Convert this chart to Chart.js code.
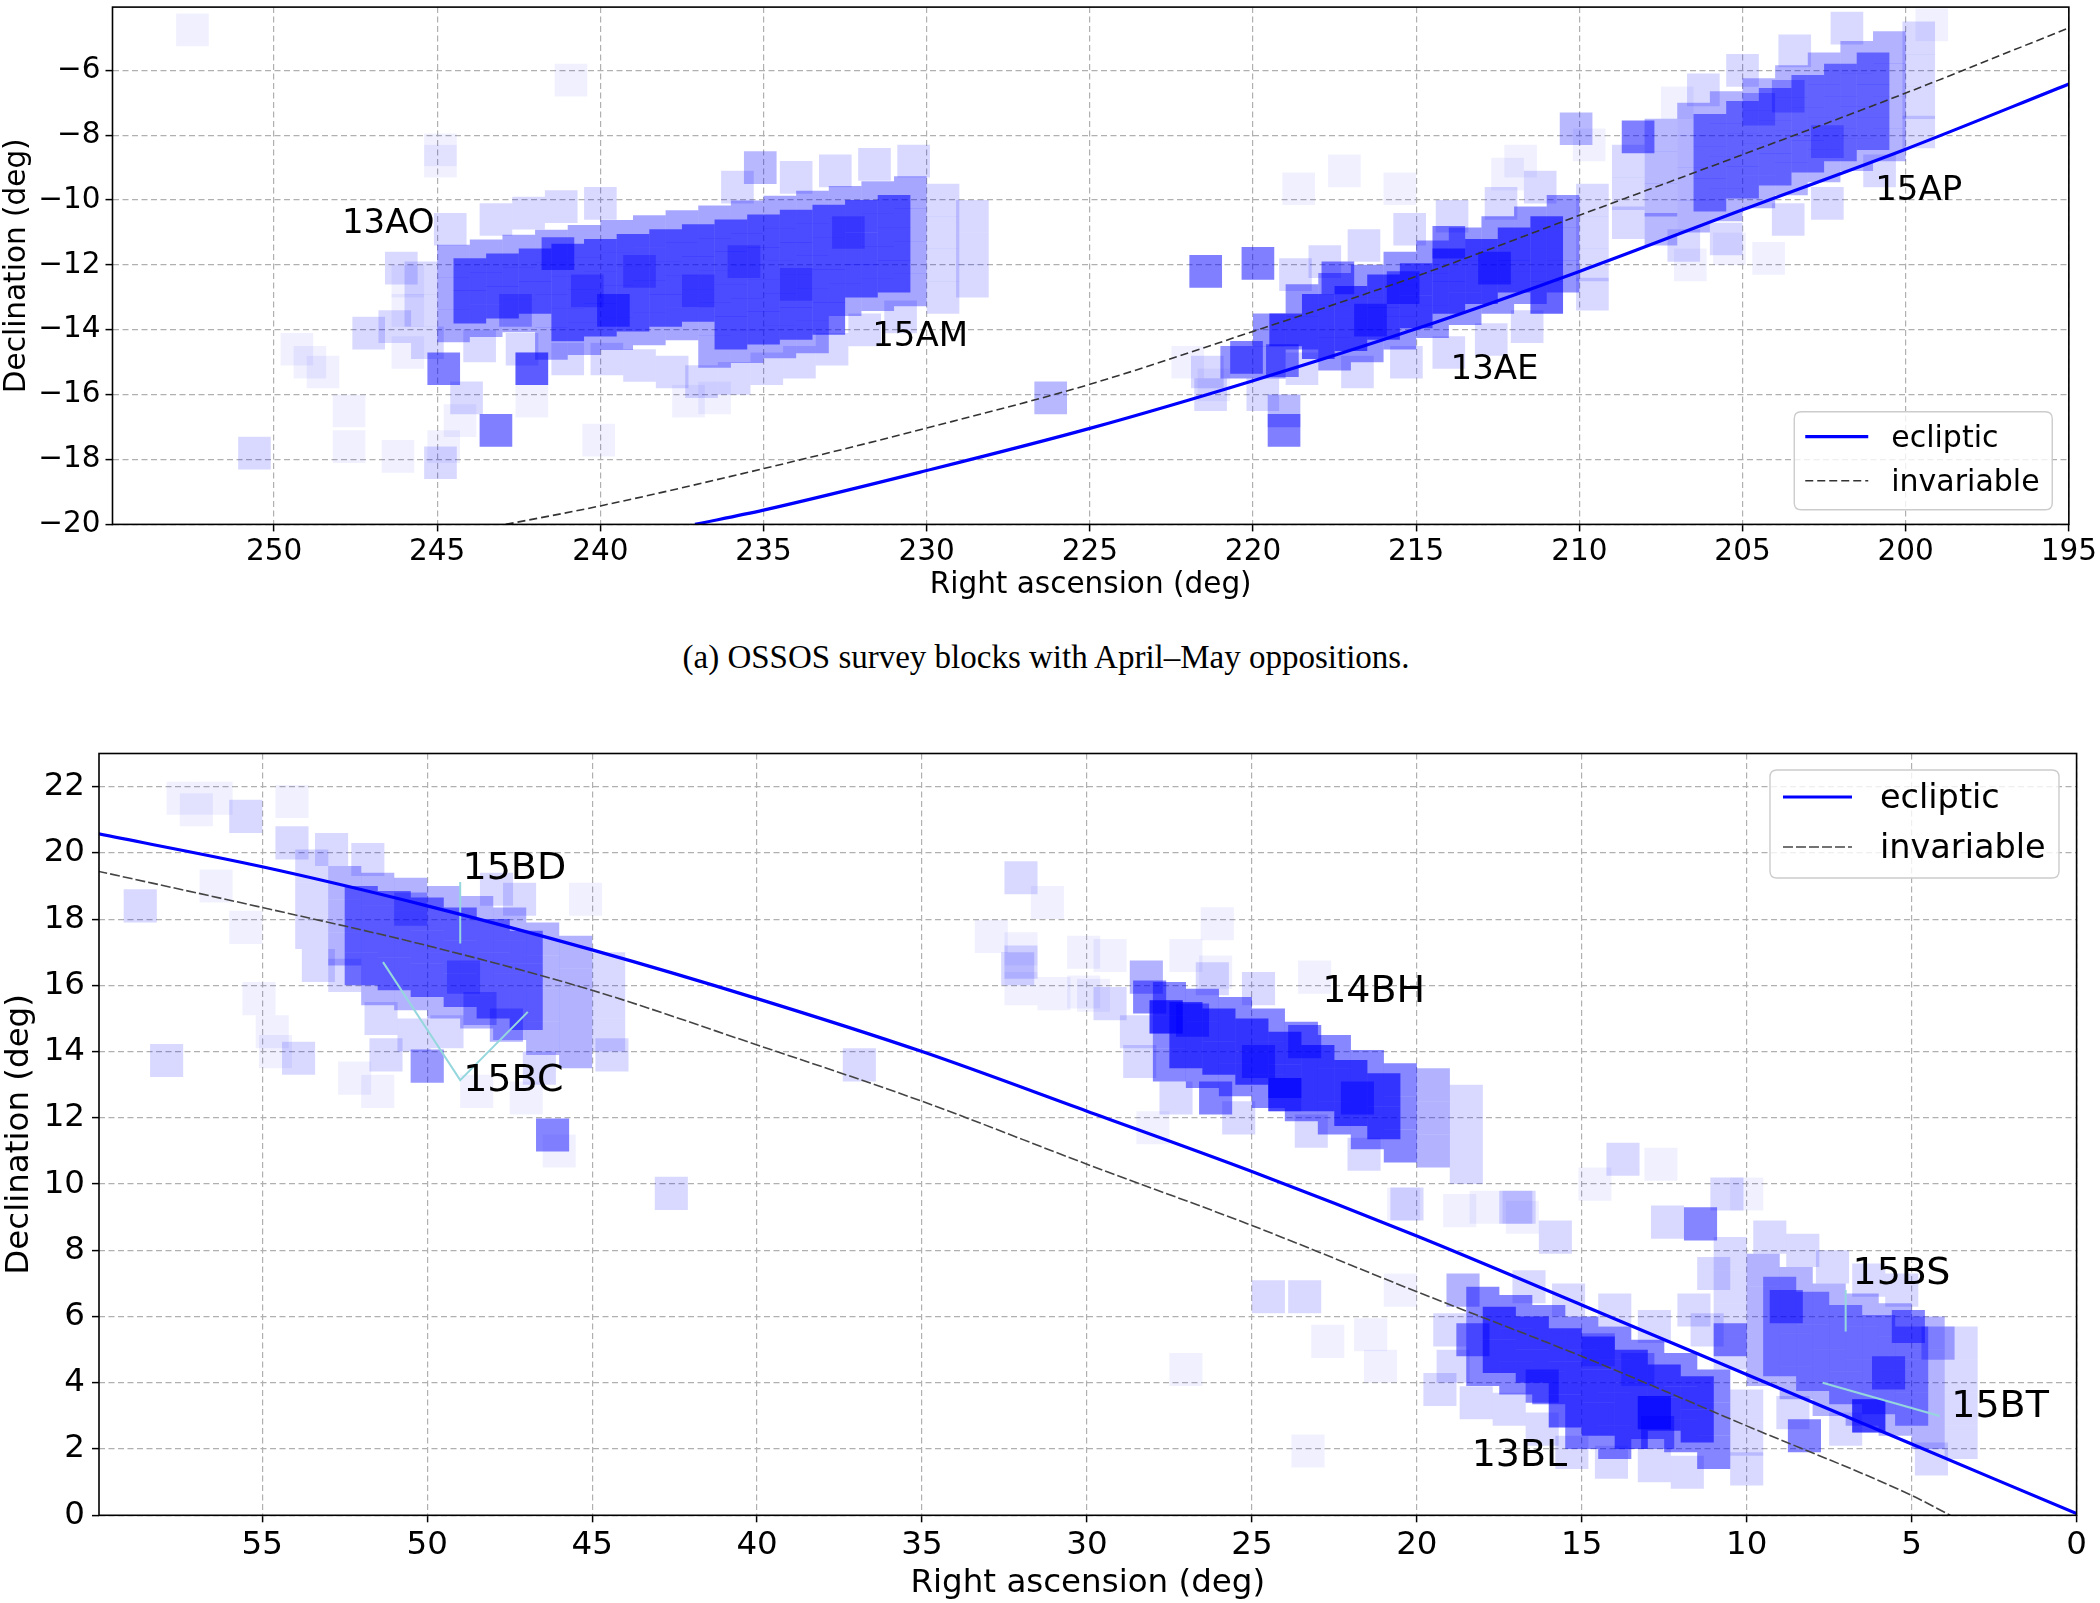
<!DOCTYPE html>
<html>
<head>
<meta charset="utf-8">
<title>OSSOS survey blocks</title>
<script src="https://cdn.jsdelivr.net/npm/chart.js@4.4.1/dist/chart.umd.min.js"></script>
<style>
  html, body { margin: 0; padding: 0; background: #fff; }
  body { width: 2100px; height: 1603px; position: relative; overflow: hidden; }
  canvas { position: absolute; left: 0; }
  #topChart { top: -15.7px; }
  #botChart { top: 700px; }
  #caption { position: absolute; left: 0; width: 2092px; top: 641px; text-align: center;
    font-family: "Liberation Serif", "DejaVu Serif", serif; font-size: 33px; line-height: 33px; color: #000; }
</style>
</head>
<body>
<canvas id="topChart" width="2100" height="626"></canvas>
<div id="caption">(a) OSSOS survey blocks with April–May oppositions.</div>
<canvas id="botChart" width="2100" height="903"></canvas>
<script>
// ---------- top panel: blocks with April-May oppositions ----------
const topXTicks = [250, 245, 240, 235, 230, 225, 220, 215, 210, 205, 200, 195];
const topYTicks = [-6, -8, -10, -12, -14, -16, -18, -20];

const topEclipticRA = [237.1, 235, 230, 225, 220, 215, 210, 205, 200, 195];
const topEclipticDec = [-20, -19.56, -18.34, -17.04, -15.57, -13.97, -12.2, -10.3, -8.43, -6.42];
const topInvariableRA = [242.9, 240, 235, 230, 225, 220, 215, 210, 205, 200, 195];
const topInvariableDec = [-20, -19.43, -18.28, -17.03, -15.68, -14.05, -12.35, -10.47, -8.6, -6.7, -4.69];

const topLabelText = ['13AO', '15AM', '13AE', '15AP'];
const topLabelRA = [246.5, 230.2, 212.6, 199.6];
const topLabelDec = [-10.64, -14.13, -15.14, -9.63];

// 13AO / 15AM field
const topOuterAO = [
  [244.5,-11.88],[244.5,-12.88],[244.5,-13.88],
  [243.5,-11.72],[243.5,-12.72],[243.5,-13.72],
  [242.5,-11.57],[242.5,-12.57],[242.5,-13.57],
  [241.5,-11.42],[241.5,-12.42],[241.5,-13.42],[241.5,-14.42],
  [240.5,-11.27],[240.5,-12.27],[240.5,-13.27],[240.5,-14.27],
  [239.5,-11.12],[239.5,-12.12],[239.5,-13.12],[239.5,-14.12],
  [238.5,-10.97],[238.5,-11.97],[238.5,-12.97],[238.5,-13.97],
  [237.5,-10.82],[237.5,-11.82],[237.5,-12.82],[237.5,-13.82],
  [236.5,-10.67],[236.5,-11.67],[236.5,-12.67],[236.5,-13.67],[236.5,-14.67],
  [235.5,-10.52],[235.5,-11.52],[235.5,-12.52],[235.5,-13.52],[235.5,-14.52],
  [234.5,-10.37],[234.5,-11.37],[234.5,-12.37],[234.5,-13.37],[234.5,-14.37],
  [233.5,-10.22],[233.5,-11.22],[233.5,-12.22],[233.5,-13.22],[233.5,-14.22],
  [232.5,-10.07],[232.5,-11.07],[232.5,-12.07],[232.5,-13.07],
  [231.5,-9.92],[231.5,-10.92],[231.5,-11.92],[231.5,-12.92],
  [230.5,-9.77],[230.5,-10.77],[230.5,-11.77],[230.5,-12.77]
];
const topInnerAO = [
  [244.0,-12.3],[244.0,-13.3],[243.0,-12.15],[243.0,-13.15],[242.0,-12.0],[242.0,-13.0],
  [241.0,-11.85],[241.0,-12.85],[241.0,-13.85],[240.0,-11.7],[240.0,-12.7],[240.0,-13.7],
  [239.0,-11.55],[239.0,-12.55],[239.0,-13.55],[238.0,-11.4],[238.0,-12.4],[238.0,-13.4],
  [237.0,-11.25],[237.0,-12.25],[237.0,-13.25],
  [236.0,-11.1],[236.0,-12.1],[236.0,-13.1],[236.0,-14.1],
  [235.0,-10.95],[235.0,-11.95],[235.0,-12.95],[235.0,-13.95],
  [234.0,-10.8],[234.0,-11.8],[234.0,-12.8],[234.0,-13.8],
  [233.0,-10.65],[233.0,-11.65],[233.0,-12.65],[233.0,-13.65],
  [232.0,-10.5],[232.0,-11.5],[232.0,-12.5],[231.0,-10.35],[231.0,-11.35],[231.0,-12.35]
];
// 13AE field
const topOuterAE = [
  [220.5,-15.0],[219.5,-14.0],[219.5,-15.0],[218.5,-13.1],[218.5,-14.1],
  [217.5,-12.75],[217.5,-13.75],[217.5,-14.75],[216.5,-12.5],[216.5,-13.5],[216.5,-14.5],
  [215.5,-12.1],[215.5,-13.1],[215.5,-14.1],[214.5,-11.75],[214.5,-12.75],[214.5,-13.75],
  [213.5,-11.35],[213.5,-12.35],[213.5,-13.35],[212.5,-11.0],[212.5,-12.0],[212.5,-13.0],
  [211.5,-10.7],[211.5,-11.7],[211.5,-12.7],[210.5,-10.35],[210.5,-11.35],[210.5,-12.35]
];
const topInnerAE = [
  [219.0,-14.0],[218.0,-13.4],[218.0,-14.4],[217.0,-13.15],[217.0,-14.15],
  [216.0,-12.8],[216.0,-13.8],[215.0,-12.45],[215.0,-13.45],[214.0,-12.0],[214.0,-13.0],
  [213.0,-11.7],[213.0,-12.7],[212.0,-11.35],[212.0,-12.35],[211.0,-11.0],[211.0,-12.0],[211.0,-13.0]
];
// 15AP field
const topOuterAP = [
  [206.5,-7.5],[206.5,-8.5],[206.5,-9.5],[206.5,-10.5],
  [205.5,-7.15],[205.5,-8.15],[205.5,-9.15],[205.5,-10.15],
  [204.5,-6.75],[204.5,-7.75],[204.5,-8.75],[204.5,-9.75],
  [203.5,-6.35],[203.5,-7.35],[203.5,-8.35],[203.5,-9.35],
  [202.5,-5.95],[202.5,-6.95],[202.5,-7.95],[202.5,-8.95],
  [201.5,-5.6],[201.5,-6.6],[201.5,-7.6],[201.5,-8.6],
  [200.5,-5.3],[200.5,-6.3],[200.5,-7.3],[200.5,-8.3]
];
const topInnerAP = [
  [206.0,-7.85],[206.0,-8.85],[206.0,-9.85],[205.0,-7.45],[205.0,-8.45],[205.0,-9.45],
  [204.0,-7.05],[204.0,-8.05],[204.0,-9.05],[203.0,-6.65],[203.0,-7.65],[203.0,-8.65],
  [202.0,-6.3],[202.0,-7.3],[202.0,-8.3],[201.0,-5.95],[201.0,-6.95],[201.0,-7.95]
];
const topDark = [
  [241.3,-11.65],[239.6,-13.4],[242.1,-15.2],[243.2,-17.1],[244.8,-15.2],
  [221.45,-12.2],[219.85,-11.95],[219.05,-17.1],[208.2,-8.05],
  [217.4,-12.4],[216.4,-13.7],[215.4,-12.7],[214.0,-11.3],[212.6,-12.1],
  [219.1,-14.95],[220.2,-14.85]
];
const topMid = [
  [235.1,-9.0],[226.2,-16.1],[210.1,-7.8],[219.05,-16.5],[242.1,-15.2],
  [238.8,-12.2],[237.0,-12.8],[235.6,-11.9],[234.0,-12.6],[232.4,-11.0],[240.4,-12.8],[242.6,-13.4],
  [203.6,-6.8],[202.4,-8.2],[204.5,-7.2],
  [207.5,-8.0],[207.5,-9.0],[207.5,-10.0],[207.5,-10.9]
];
const topLight = [
  [244.9,-18.1],[244.1,-16.1],[247.1,-14.1],[250.6,-17.8],
  [245.5,-12.4],[245.5,-13.4],[245.3,-14.4],[246.3,-13.9],[246.1,-12.1],
  [244.6,-10.9],[243.2,-10.6],[242.2,-10.4],[241.2,-10.2],[240.0,-10.1],
  [235.8,-9.6],[234.0,-9.3],[232.8,-9.1],[231.6,-8.9],[230.4,-8.8],
  [229.5,-10.0],[229.5,-11.0],[229.5,-12.0],[229.5,-13.0],[228.6,-10.5],[228.6,-11.5],[228.6,-12.5],
  [239.8,-14.9],[238.8,-15.1],[237.8,-15.3],[236.9,-15.6],[235.9,-15.5],[234.9,-15.2],[233.9,-15.0],
  [232.9,-14.6],[231.9,-14.0],[230.8,-13.6],[241.0,-14.9],[242.4,-14.6],[243.7,-14.5],
  [221.4,-15.3],[221.3,-16.0],[219.7,-16.0],[218.5,-15.2],[216.8,-15.3],[215.3,-15.0],[214.0,-14.7],
  [212.7,-14.3],[211.6,-13.9],[218.7,-12.3],[217.8,-11.9],[216.6,-11.4],[215.2,-10.9],[213.9,-10.5],
  [212.4,-10.1],[211.2,-9.6],[209.6,-10.0],[209.6,-11.0],[209.6,-12.0],[209.6,-12.9],
  [208.5,-8.8],[208.5,-9.8],[208.5,-10.7],[206.8,-11.4],[203.6,-10.6],[202.4,-10.1],[206.2,-6.6],
  [205.0,-6.0],[203.4,-5.4],[201.8,-4.7],[199.6,-5.0],[199.6,-6.0],[199.6,-7.0],[199.6,-7.9],
  [200.8,-9.1],[205.5,-11.2]
];
const topFaint = [
  [252.5,-4.75],[240.9,-6.3],[244.9,-8.45],[244.9,-8.8],[247.7,-17.6],[246.2,-17.9],[244.8,-17.6],
  [240.05,-17.4],[247.7,-16.5],[244.3,-16.8],[242.1,-16.2],[236.5,-16.1],[237.3,-16.2],[249.3,-14.6],
  [248.9,-15.0],[248.5,-15.3],[245.9,-14.7],[245.9,-12.5],[245.9,-13.4],[221.2,-15.7],[218.6,-9.65],
  [217.2,-9.1],[215.5,-9.65],[212.2,-9.2],[211.8,-8.8],[204.2,-11.8],[205.4,-11.5],[222.0,-15.0],
  [207.0,-7.0],[199.2,-4.6],[209.7,-8.3],[206.6,-12.0]
];

// ---------- bottom panel ----------
const botXTicks = [55, 50, 45, 40, 35, 30, 25, 20, 15, 10, 5, 0];
const botYTicks = [0, 2, 4, 6, 8, 10, 12, 14, 16, 18, 20, 22];

const botEclipticRA = [60, 55, 50, 45, 40, 35, 30, 25, 20, 15, 10, 5, 0];
const botEclipticDec = [20.58, 19.58, 18.4, 17.07, 15.6, 14.0, 12.2, 10.38, 8.43, 6.35, 4.25, 2.15, 0.05];
const botInvariableRA = [60, 55, 50, 45, 40, 35, 30, 25, 20, 15, 10, 5, 3.83];
const botInvariableDec = [19.45, 18.35, 17.2, 15.85, 14.2, 12.5, 10.6, 8.75, 6.75, 4.8, 2.7, 0.6, 0];

const botLabelText = ['15BD', '15BC', '14BH', '15BS', '15BT', '13BL'];
const botLabelRA = [47.36, 47.39, 21.31, 5.31, 2.32, 16.89];
const botLabelDec = [19.62, 13.22, 15.9, 7.41, 3.39, 1.92];

const leader15BD = [[49.0, 19.12], [49.0, 17.26]];
const leader15BC = [[51.34, 16.7], [49.0, 13.14], [46.95, 15.2]];
const leader15BS = [[7.0, 6.8], [7.0, 5.55]];
const leader15BT = [[7.7, 4.0], [4.15, 3.0]];

// 15BD / 15BC field
const botOuterBD = [
  [52.5,19.1],[52.5,18.1],[52.5,17.1],
  [51.5,18.9],[51.5,17.9],[51.5,16.9],[51.5,15.9],
  [50.5,18.75],[50.5,17.75],[50.5,16.75],[50.5,15.75],
  [49.5,18.5],[49.5,17.5],[49.5,16.5],[49.5,15.5],
  [48.5,18.2],[48.5,17.2],[48.5,16.2],[48.5,15.2],
  [47.5,17.85],[47.5,16.85],[47.5,15.85],[47.5,14.85],
  [46.5,17.4],[46.5,16.4],[46.5,15.4],[46.5,14.4]
];
const botInnerBD = [
  [52.0,18.5],[52.0,17.5],[52.0,16.5],[51.0,18.35],[51.0,17.35],[51.0,16.35],
  [50.0,18.15],[50.0,17.15],[50.0,16.15],[49.0,17.85],[49.0,16.85],[49.0,15.85],
  [48.0,17.5],[48.0,16.5],[48.0,15.5],[47.0,17.15],[47.0,16.15],[47.0,15.15]
];
// 14BH field
const botOuterBH = [
  [27.5,15.6],[27.5,14.6],[27.5,13.6],[26.5,15.4],[26.5,14.4],[26.5,13.4],
  [25.5,15.15],[25.5,14.15],[25.5,13.15],[24.5,14.8],[24.5,13.8],[24.5,12.8],
  [23.5,14.4],[23.5,13.4],[23.5,12.4],[22.5,14.0],[22.5,13.0],[22.5,12.0],
  [21.5,13.55],[21.5,12.55],[21.5,11.55],[20.5,13.15],[20.5,12.15],[20.5,11.15]
];
const botInnerBH = [
  [27.0,15.0],[27.0,14.0],[26.0,14.8],[26.0,13.8],[25.0,14.5],[25.0,13.5],
  [24.0,14.1],[24.0,13.1],[23.0,13.7],[23.0,12.7],[22.0,13.25],[22.0,12.25],
  [21.0,12.85],[21.0,11.85]
];
// 13BL field
const botOuterBL = [
  [18.0,6.4],[18.0,5.4],[18.0,4.4],[17.0,6.15],[17.0,5.15],[17.0,4.15],
  [16.0,5.85],[16.0,4.85],[16.0,3.85],[15.0,5.5],[15.0,4.5],[15.0,3.5],[15.0,2.5],
  [14.0,5.2],[14.0,4.2],[14.0,3.2],[14.0,2.2],[13.0,4.8],[13.0,3.8],[13.0,2.8],
  [12.0,4.4],[12.0,3.4],[12.0,2.4],[11.0,3.9],[11.0,2.9],[11.0,1.9]
];
const botInnerBL = [
  [17.5,5.8],[17.5,4.8],[16.5,5.5],[16.5,4.5],[15.5,5.15],[15.5,4.15],[15.5,3.15],
  [14.5,4.9],[14.5,3.9],[14.5,2.9],[13.5,4.5],[13.5,3.5],[13.5,2.5],
  [12.5,4.05],[12.5,3.05],[11.5,3.7],[11.5,2.7]
];
// 15BS / 15BT field
const botOuterBS = [
  [9.5,7.4],[9.5,6.4],[9.5,5.4],[9.5,4.4],[8.5,7.0],[8.5,6.0],[8.5,5.0],[8.5,4.0],
  [7.5,6.5],[7.5,5.5],[7.5,4.5],[7.5,3.5],[6.5,6.2],[6.5,5.2],[6.5,4.2],[6.5,3.2],
  [5.5,5.9],[5.5,4.9],[5.5,3.9],[5.5,2.9],[4.5,5.5],[4.5,4.5],[4.5,3.5],[4.5,2.5]
];
const botInnerBS = [
  [9.0,6.7],[9.0,5.7],[9.0,4.7],[8.0,6.25],[8.0,5.25],[8.0,4.25],[7.0,5.85],[7.0,4.85],[7.0,3.85],
  [6.0,5.55],[6.0,4.55],[6.0,3.55],[5.0,5.2],[5.0,4.2],[5.0,3.2]
];
const botDark = [
  [46.2,11.48],[28.1,15.65],[27.6,15.05],[27.6,15.05],[26.8,14.95],[24.8,13.7],[24.0,12.7],[24.0,12.7],
  [21.8,12.6],[26.1,12.6],[23.4,14.3],[18.3,5.3],[16.2,3.9],[12.8,3.1],[12.8,3.1],[12.7,2.5],
  [8.8,6.3],[10.5,5.3],[5.7,4.3],[6.3,3.0],[6.3,3.0],[8.25,2.4],[11.4,8.8],[5.1,5.7]
];
const botMid = [
  [50.0,13.56],[28.2,16.25],[47.6,14.8],[48.4,15.3],[48.9,16.25],[50.5,18.3],[14.5,5.0],[13.3,4.4],
  [18.6,6.8],[4.2,5.2],[45.5,17.0],[45.5,16.0],[45.5,15.0],[45.5,14.0],
  [19.5,13.0],[19.5,12.0],[19.5,11.0]
];
const botLight = [
  [55.5,21.1],[58.7,18.4],[57.9,13.73],[53.9,13.8],[51.25,13.9],[50.0,13.56],[42.6,9.72],[36.9,13.6],
  [32.0,16.7],[32.0,19.25],[32.1,16.5],[29.3,15.45],[24.5,6.6],[23.4,6.6],[20.3,9.4],[15.8,8.4],
  [17.0,9.3],[13.75,10.75],[10.6,9.7],[12.4,8.85],[19.3,3.8],[16.9,9.3],
  [53.5,19.6],[53.5,18.6],[53.5,17.6],[53.3,16.6],[52.5,16.3],[54.1,20.3],[52.9,20.1],[51.8,19.8],
  [44.5,16.5],[44.5,15.5],[44.5,14.5],[44.4,13.9],[47.9,18.9],[47.2,18.6],[51.4,15.0],[50.4,14.5],
  [46.6,13.5],[49.4,14.6],
  [18.5,12.5],[18.5,11.5],[18.5,10.5],[28.5,14.6],[28.4,13.7],[27.3,12.6],[26.2,16.2],[24.8,15.9],
  [23.2,11.6],[21.6,10.9],[25.4,12.0],
  [19.0,5.6],[18.9,4.5],[18.2,3.4],[17.2,3.2],[16.2,2.6],[15.3,1.9],[14.1,1.6],[12.8,1.5],[11.8,1.3],
  [10.0,3.3],[10.0,2.3],[10.0,1.4],[16.6,6.9],[15.4,6.5],[14.0,6.2],[12.8,5.7],
  [10.5,7.9],[10.5,6.9],[10.5,5.9],[10.5,4.9],[3.5,5.2],[3.5,4.2],[3.5,3.2],[3.5,2.2],
  [11.0,7.3],[11.6,6.2],[11.2,5.6],[4.4,1.7],[9.3,8.4],[8.3,8.0],[7.4,7.5],[6.3,7.1],[5.3,6.8],
  [7.0,2.6],[8.6,3.1]
];
const botFaint = [
  [57.4,21.65],[56.4,21.65],[54.1,21.55],[56.4,19.0],[55.5,17.75],[54.7,14.6],[55.1,15.6],[51.5,12.8],
  [48.5,12.8],[46.0,11.0],[45.2,18.6],[32.9,17.48],[31.2,18.5],[32.0,17.1],[30.1,17.0],[29.3,16.9],
  [31.0,15.75],[30.1,15.8],[26.05,17.86],[27.0,16.9],[26.1,16.4],[23.1,16.25],[28.0,11.7],[22.7,5.25],
  [21.4,5.45],[21.1,4.5],[27.0,4.4],[23.3,1.94],[20.5,6.8],[18.7,9.2],[16.8,9.0],[17.9,9.3],[14.6,10.0],
  [12.6,10.6],[20.4,9.4],[29.8,15.7],[32.0,15.9],[10.0,9.7],[57.0,21.3],[54.6,14.0],[52.2,13.2],[47.0,12.6]
];

// ---------- drawing ----------
const FONT = '"DejaVu Sans", sans-serif';
const GRID = '#b0b0b0';
Chart.defaults.font.family = FONT;

const minus = v => (v < 0 ? '\u2212' + Math.abs(v) : String(v));

function squareSet(pts, alpha, radius) {
  return {
    data: pts.map(([x, y]) => ({x, y})),
    pointStyle: 'rect', pointRadius: radius, pointHoverRadius: radius,
    backgroundColor: `rgba(0,0,255,${alpha})`, borderWidth: 0, clip: 0, order: 2
  };
}
function curveSet(label, xs, ys, color, width, dash) {
  return {
    label, inLegend: true, data: xs.map((x, i) => ({x, y: ys[i]})),
    showLine: true, pointRadius: 0, borderColor: color, borderWidth: width, borderDash: dash,
    cubicInterpolationMode: 'monotone', clip: 0, order: 0
  };
}
function leaderSet(pts) {
  return {
    data: pts.map(([x, y]) => ({x, y})), showLine: true, pointRadius: 0,
    borderColor: 'rgb(150,215,222)', borderWidth: 2, clip: 0, order: 1
  };
}

function roundBox(ctx, x, y, w, h, r) {
  ctx.beginPath();
  ctx.moveTo(x + r, y);
  ctx.lineTo(x + w - r, y); ctx.quadraticCurveTo(x + w, y, x + w, y + r);
  ctx.lineTo(x + w, y + h - r); ctx.quadraticCurveTo(x + w, y + h, x + w - r, y + h);
  ctx.lineTo(x + r, y + h); ctx.quadraticCurveTo(x, y + h, x, y + h - r);
  ctx.lineTo(x, y + r); ctx.quadraticCurveTo(x, y, x + r, y);
  ctx.closePath();
}

function decor(p) {
  return {
    id: 'decor',
    afterDatasetsDraw(chart) {
      const {ctx, scales: {x, y}} = chart;
      ctx.save();
      ctx.fillStyle = '#000';
      ctx.font = `${p.labelSize}px ${FONT}`;
      ctx.textAlign = 'center';
      ctx.textBaseline = 'alphabetic';
      p.labelText.forEach((t, i) => {
        ctx.fillText(t, x.getPixelForValue(p.labelRA[i]), y.getPixelForValue(p.labelDec[i]) + 0.364 * p.labelSize);
      });
      ctx.restore();
    },
    afterDraw(chart) {
      const {ctx, chartArea: a} = chart;
      ctx.save();
      ctx.strokeStyle = '#000';
      ctx.lineWidth = 1.6;
      ctx.strokeRect(a.left, a.top, a.right - a.left, a.bottom - a.top);
      const L = p.legend;
      const bx = a.right - L.inset[0] - L.w;
      const by = L.atBottom ? a.bottom - L.inset[1] - L.h : a.top + L.inset[1];
      roundBox(ctx, bx, by, L.w, L.h, 7);
      ctx.fillStyle = 'rgba(255,255,255,0.8)';
      ctx.fill();
      ctx.strokeStyle = '#cccccc';
      ctx.lineWidth = 1.4;
      ctx.stroke();
      ctx.font = `${L.size}px ${FONT}`;
      ctx.textAlign = 'left';
      ctx.textBaseline = 'alphabetic';
      chart.data.datasets.filter(d => d.inLegend).forEach((d, i) => {
        const ry = by + L.rows[i];
        ctx.beginPath();
        ctx.setLineDash(d.borderDash || []);
        ctx.strokeStyle = d.borderColor;
        ctx.lineWidth = d.borderWidth;
        ctx.moveTo(bx + L.line[0], ry);
        ctx.lineTo(bx + L.line[1], ry);
        ctx.stroke();
        ctx.setLineDash([]);
        ctx.fillStyle = '#000';
        ctx.fillText(d.label, bx + L.text, ry + 0.33 * L.size);
      });
      ctx.restore();
    }
  };
}

function panel(id, p) {
  const datasets = [];
  p.squares.forEach(([pts, a]) => datasets.push(squareSet(pts, a, p.squareRadius)));
  p.leaders.forEach(pts => datasets.push(leaderSet(pts)));
  datasets.push(curveSet('ecliptic', p.eclRA, p.eclDec, '#0000ff', 3.2, []));
  datasets.push(curveSet('invariable', p.invRA, p.invDec, p.invColor, 1.6, p.invDash));

  const tickFont = {family: FONT, size: p.tickSize};
  const grid = {color: GRID, lineWidth: 1.2, tickLength: 7, tickColor: '#000', tickWidth: 1.5, tickBorderDash: []};

  return new Chart(document.getElementById(id), {
    type: 'scatter',
    data: {datasets},
    options: {
      responsive: false, devicePixelRatio: 1, animation: false, events: [],
      layout: {padding: p.pad},
      plugins: {legend: {display: false}, tooltip: {enabled: false}},
      scales: {
        x: {
          type: 'linear', reverse: true, min: p.xMin, max: p.xMax,
          afterBuildTicks: s => { s.ticks = p.xTicks.map(v => ({value: v})); },
          afterFit: s => { s.height = p.xAxisHeight; },
          ticks: {font: tickFont, color: '#000', padding: p.xTickPad, autoSkip: false, maxRotation: 0, callback: minus},
          grid, border: {display: false, dash: [6, 3.5]},
          title: {display: true, text: 'Right ascension (deg)', font: tickFont, color: '#000',
                  padding: {top: 0, bottom: p.xTitlePad}}
        },
        y: {
          type: 'linear', min: p.yMin, max: p.yMax,
          afterBuildTicks: s => { s.ticks = p.yTicks.map(v => ({value: v})); },
          afterFit: s => { s.width = p.yAxisWidth; },
          ticks: {font: tickFont, color: '#000', padding: p.yTickPad, autoSkip: false, callback: minus},
          grid, border: {display: false, dash: [6, 3.5]},
          title: {display: true, text: 'Declination (deg)', font: tickFont, color: '#000',
                  padding: {top: 0, bottom: 0}}
        }
      }
    },
    plugins: [decor(p)]
  });
}

panel('topChart', {
  squares: [[topOuterAO, 0.35], [topInnerAO, 0.55], [topOuterAE, 0.42], [topInnerAE, 0.6],
            [topOuterAP, 0.3], [topInnerAP, 0.45], [topDark, 0.5], [topMid, 0.28],
            [topLight, 0.15], [topFaint, 0.06]],
  squareRadius: 23.1,
  leaders: [],
  eclRA: topEclipticRA, eclDec: topEclipticDec,
  invRA: topInvariableRA, invDec: topInvariableDec, invColor: '#333333', invDash: [8, 4],
  labelText: topLabelText, labelRA: topLabelRA, labelDec: topLabelDec, labelSize: 34,
  xMin: 195, xMax: 254.95, yMin: -20, yMax: -4.05, xTicks: topXTicks, yTicks: topYTicks,
  tickSize: 29.5, pad: {left: 0, right: 27.4, top: 17.7, bottom: 0},
  xAxisHeight: 85.6, yAxisWidth: 112.5, xTickPad: 3, yTickPad: 5, xTitlePad: 6.6,
  legend: {atBottom: true, inset: [16.6, 14.7], w: 258, h: 98, rows: [25, 69], line: [11, 74], text: 97, size: 30}
});

panel('botChart', {
  squares: [[botOuterBD, 0.3], [botInnerBD, 0.5], [botOuterBH, 0.47], [botInnerBH, 0.62],
            [botOuterBL, 0.48], [botInnerBL, 0.6], [botOuterBS, 0.3], [botInnerBS, 0.4],
            [botDark, 0.48], [botMid, 0.3], [botLight, 0.15], [botFaint, 0.06]],
  squareRadius: 23.42,
  leaders: [leader15BD, leader15BC, leader15BS, leader15BT],
  eclRA: botEclipticRA, eclDec: botEclipticDec,
  invRA: botInvariableRA, invDec: botInvariableDec, invColor: '#444444', invDash: [10, 3],
  labelText: botLabelText, labelRA: botLabelRA, labelDec: botLabelDec, labelSize: 38,
  xMin: 0, xMax: 59.95, yMin: 0, yMax: 23, xTicks: botXTicks, yTicks: botYTicks,
  tickSize: 32.5, pad: {left: 0, right: 11.4, top: 53.5, bottom: 0},
  xAxisHeight: 87.7, yAxisWidth: 99, xTickPad: 4, yTickPad: 7, xTitlePad: 0,
  legend: {atBottom: false, inset: [17.6, 16.5], w: 289, h: 108, rows: [27, 77], line: [13, 82], text: 110, size: 33.5}
});
</script>
</body>
</html>
